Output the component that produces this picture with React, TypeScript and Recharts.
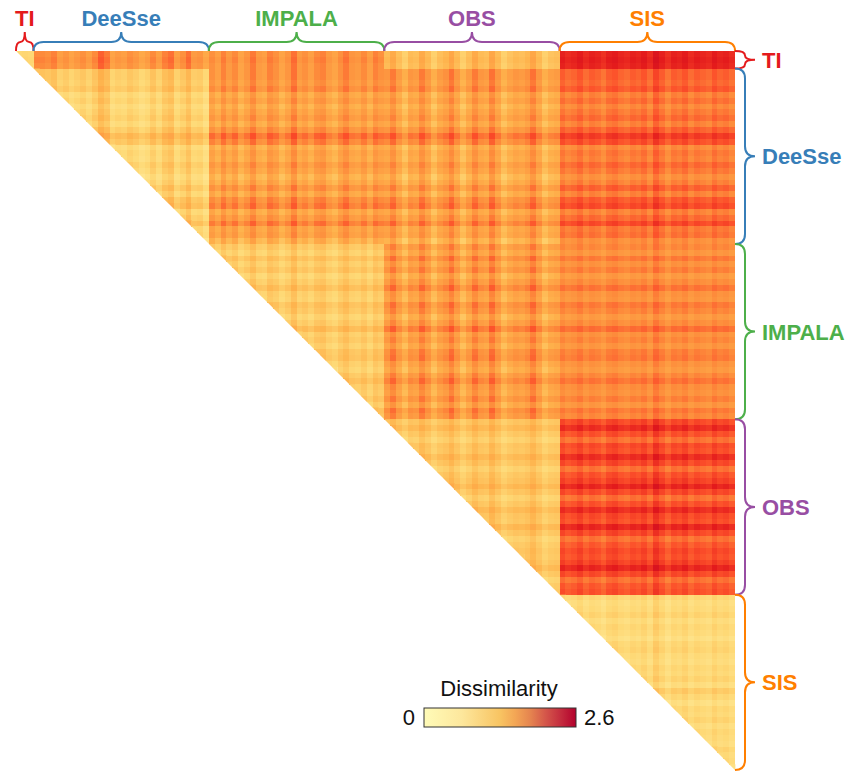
import React from "react";
import { Scatter, ScatterChart, XAxis, YAxis } from "recharts";

// ---- data ------------------------------------------------------------------
const GROUPS = ["TI", "DeeSse", "IMPALA", "OBS", "SIS"];
const GROUP_COLORS = ["#e41a1c", "#377eb8", "#4daf4a", "#984ea3", "#ff7f00"];

// mean dissimilarity between two groups (row group -> column group, upper part)
const BLOCK_MEAN = [
  [0.7, 1.3, 1.3, 0.9, 2.1],
  [1.3, 0.75, 1.2, 1.15, 1.58],
  [1.3, 1.2, 0.8, 1.18, 1.42],
  [0.9, 1.15, 1.18, 0.85, 1.78],
  [2.1, 1.58, 1.42, 1.78, 0.7],
];
// how strongly the per-realisation stripes show inside each block
const STRIPE_GAIN = [
  [0.5, 1, 1, 0.8, 0.8],
  [1, 0.7, 1, 1, 1],
  [1, 1, 0.6, 1, 0.8],
  [0.8, 1, 1, 0.5, 1],
  [0.8, 1, 0.8, 1, 0.8],
];

// per-realisation shift (stripes)
const TI_OFFSETS = [0.05, 0.1, 0.05];
const DEESSE_OFFSETS = [
  0.15, 0.15, 0.1, 0.2, -0.05, 0.05, -0.1, 0.0, 0.1, -0.05,
  0.15, 0.4, 0.25, -0.1, 0.0, -0.05, 0.1, 0.0, -0.15, -0.05,
  0.15, -0.05, 0.2, 0.3, -0.05, 0.1, 0.3, 0.0, 0.05, -0.15,
];
const IMPALA_OFFSETS = [
  0.1, -0.05, 0.2, 0.0, 0.15, -0.1, 0.05, 0.25, 0.0, -0.05,
  0.2, 0.1, -0.1, 0.05, 0.3, 0.0, 0.1, -0.05, 0.15, 0.2,
  0.0, -0.1, 0.1, 0.25, 0.05, 0.0, 0.15, -0.05, 0.2, 0.1,
];
const OBS_OFFSETS = [
  0.1, 0.3, 0.05, -0.15, 0.1, 0.05, 0.3, 0.1, -0.15, 0.05,
  0.15, 0.35, 0.1, -0.15, 0.05, 0.3, 0.1, 0.05, 0.35, 0.1,
  -0.15, 0.0, 0.1, 0.05, 0.15, 0.35, 0.1, -0.15, 0.0, 0.05,
];
const SIS_OFFSETS = [
  0.05, -0.05, 0.0, 0.1, -0.05, 0.05, 0.0, -0.1, 0.05, 0.1,
  0.0, -0.05, 0.05, 0.0, 0.1, -0.05, 0.2, 0.05, -0.1, 0.05,
  0.0, 0.1, -0.05, 0.05, 0.0, -0.05, 0.1, 0.0, 0.05, -0.05,
];
const OFFSETS = [TI_OFFSETS, DEESSE_OFFSETS, IMPALA_OFFSETS, OBS_OFFSETS, SIS_OFFSETS];

const VMIN = 0;
const VMAX = 2.6;
const HEAT_STOPS = ["#ffffcc", "#ffeda0", "#fed976", "#feb24c", "#fd8d3c", "#fc4e2a", "#e31a1c", "#bd0026"];
const BAR_STOPS = [
  [0, "#fffbb8"],
  [0.25, "#fde79c"],
  [0.5, "#f8c462"],
  [0.6, "#f3a655"],
  [0.7, "#e5844f"],
  [0.8, "#d4564a"],
  [0.9, "#c42c3e"],
  [1, "#b3002c"],
] as const;

// ---- layout ----------------------------------------------------------------
const W = 857;
const H = 775;
const MARGIN = { top: 51, left: 16, right: 122, bottom: 5 };
const PLOT = W - MARGIN.left - MARGIN.right; // 719
const FONT = '"Liberation Sans", Arial, sans-serif';

// ---- helpers ---------------------------------------------------------------
function hexRgb(h: string) {
  const n = parseInt(h.slice(1), 16);
  return [(n >> 16) & 255, (n >> 8) & 255, n & 255];
}
function heat(v: number) {
  const t = Math.max(0, Math.min(1, (v - VMIN) / (VMAX - VMIN))) * (HEAT_STOPS.length - 1);
  const i = Math.min(HEAT_STOPS.length - 2, Math.floor(t));
  const f = t - i;
  const a = hexRgb(HEAT_STOPS[i]);
  const b = hexRgb(HEAT_STOPS[i + 1]);
  const c = a.map((x, k) => Math.round(x + (b[k] - x) * f));
  return `rgb(${c[0]},${c[1]},${c[2]})`;
}

const items = OFFSETS.flatMap((list, g) => list.map((off) => ({ g, off })));
const N = items.length;
const CELL = PLOT / N;
const starts = OFFSETS.map((_, g) => OFFSETS.slice(0, g).reduce((s, l) => s + l.length, 0));

const cells: { x: number; y: number; v: number; diag: boolean }[] = [];
for (let i = 0; i < N; i++)
  for (let j = i; j < N; j++) {
    const a = items[i];
    const b = items[j];
    const v = BLOCK_MEAN[a.g][b.g] + STRIPE_GAIN[a.g][b.g] * (a.off + b.off);
    cells.push({ x: j + 0.5, y: i + 0.5, v: Math.max(VMIN, Math.min(VMAX, v)), diag: i === j });
  }

const topBraces = GROUPS.map((_, g) => ({ x: starts[g] + OFFSETS[g].length / 2, y: 0, g }));
const rightBraces = GROUPS.map((_, g) => ({ x: N, y: starts[g] + OFFSETS[g].length / 2, g }));

// ---- shapes ----------------------------------------------------------------
function Cell(props: any) {
  const { cx, cy, payload } = props;
  const h = CELL / 2;
  if (payload.diag) {
    // the diagonal cell is cut along the diagonal so the edge stays straight
    return (
      <polygon
        points={`${cx - h},${cy - h} ${cx + h + 0.4},${cy - h} ${cx + h + 0.4},${cy + h + 0.4}`}
        fill={heat(payload.v)}
      />
    );
  }
  return (
    <rect
      x={cx - h}
      y={cy - h}
      width={CELL + 0.4}
      height={CELL + 0.4}
      fill={heat(payload.v)}
      shapeRendering="crispEdges"
    />
  );
}

function TopBrace(props: any) {
  const { cx, cy, payload } = props;
  const g = payload.g;
  const half = (OFFSETS[g].length * CELL) / 2;
  const xa = cx - half;
  const xb = cx + half;
  const r = Math.min(10, half / 2);
  const yl = cy - 9;
  const yt = cy - 19;
  const d = `M${xa},${cy} Q${xa},${yl} ${xa + r},${yl} L${cx - r},${yl} Q${cx},${yl} ${cx},${yt} Q${cx},${yl} ${cx + r},${yl} L${xb - r},${yl} Q${xb},${yl} ${xb},${cy}`;
  return (
    <g>
      <path d={d} fill="none" stroke={GROUP_COLORS[g]} strokeWidth={2} />
      <text x={cx} y={cy - 25} textAnchor="middle" fontFamily={FONT} fontWeight="bold" fontSize={22} fill={GROUP_COLORS[g]}>
        {GROUPS[g]}
      </text>
    </g>
  );
}

function RightBrace(props: any) {
  const { cx, cy, payload } = props;
  const g = payload.g;
  const half = (OFFSETS[g].length * CELL) / 2;
  const ya = cy - half;
  const yb = cy + half;
  const r = Math.min(10, half / 2);
  const xl = cx + 10;
  const xt = cx + 20;
  const d = `M${cx},${ya} Q${xl},${ya} ${xl},${ya + r} L${xl},${cy - r} Q${xl},${cy} ${xt},${cy} Q${xl},${cy} ${xl},${cy + r} L${xl},${yb - r} Q${xl},${yb} ${cx},${yb}`;
  return (
    <g>
      <path d={d} fill="none" stroke={GROUP_COLORS[g]} strokeWidth={2} />
      <text x={cx + 27} y={cy + 8} fontFamily={FONT} fontWeight="bold" fontSize={22} fill={GROUP_COLORS[g]}>
        {GROUPS[g]}
      </text>
    </g>
  );
}

function ColorBar() {
  return (
    <svg width={W} height={H} style={{ position: "absolute", left: 0, top: 0, pointerEvents: "none" }}>
      <defs>
        <linearGradient id="cbar" x1="0" x2="1" y1="0" y2="0">
          {BAR_STOPS.map(([o, c]) => (
            <stop key={o} offset={o} stopColor={c} />
          ))}
        </linearGradient>
      </defs>
      <text x={499} y={696} textAnchor="middle" fontFamily={FONT} fontSize={22} fill="#111">
        Dissimilarity
      </text>
      <rect x={424} y={708} width={152} height={19} fill="url(#cbar)" stroke="#333" strokeWidth={1} />
      <text x={415} y={725} textAnchor="end" fontFamily={FONT} fontSize={22} fill="#111">
        {VMIN}
      </text>
      <text x={584} y={725} fontFamily={FONT} fontSize={22} fill="#111">
        {VMAX}
      </text>
    </svg>
  );
}

export default function App() {
  return (
    <div style={{ position: "absolute", left: 0, top: 0, width: W, height: H, background: "#fff" }}>
      <ScatterChart width={W} height={H} margin={MARGIN}>
        <XAxis type="number" dataKey="x" domain={[0, N]} hide />
        <YAxis type="number" dataKey="y" domain={[0, N]} reversed hide />
        <Scatter data={cells} shape={Cell} isAnimationActive={false} />
        <Scatter data={topBraces} shape={TopBrace} isAnimationActive={false} />
        <Scatter data={rightBraces} shape={RightBrace} isAnimationActive={false} />
      </ScatterChart>
      <ColorBar />
    </div>
  );
}
